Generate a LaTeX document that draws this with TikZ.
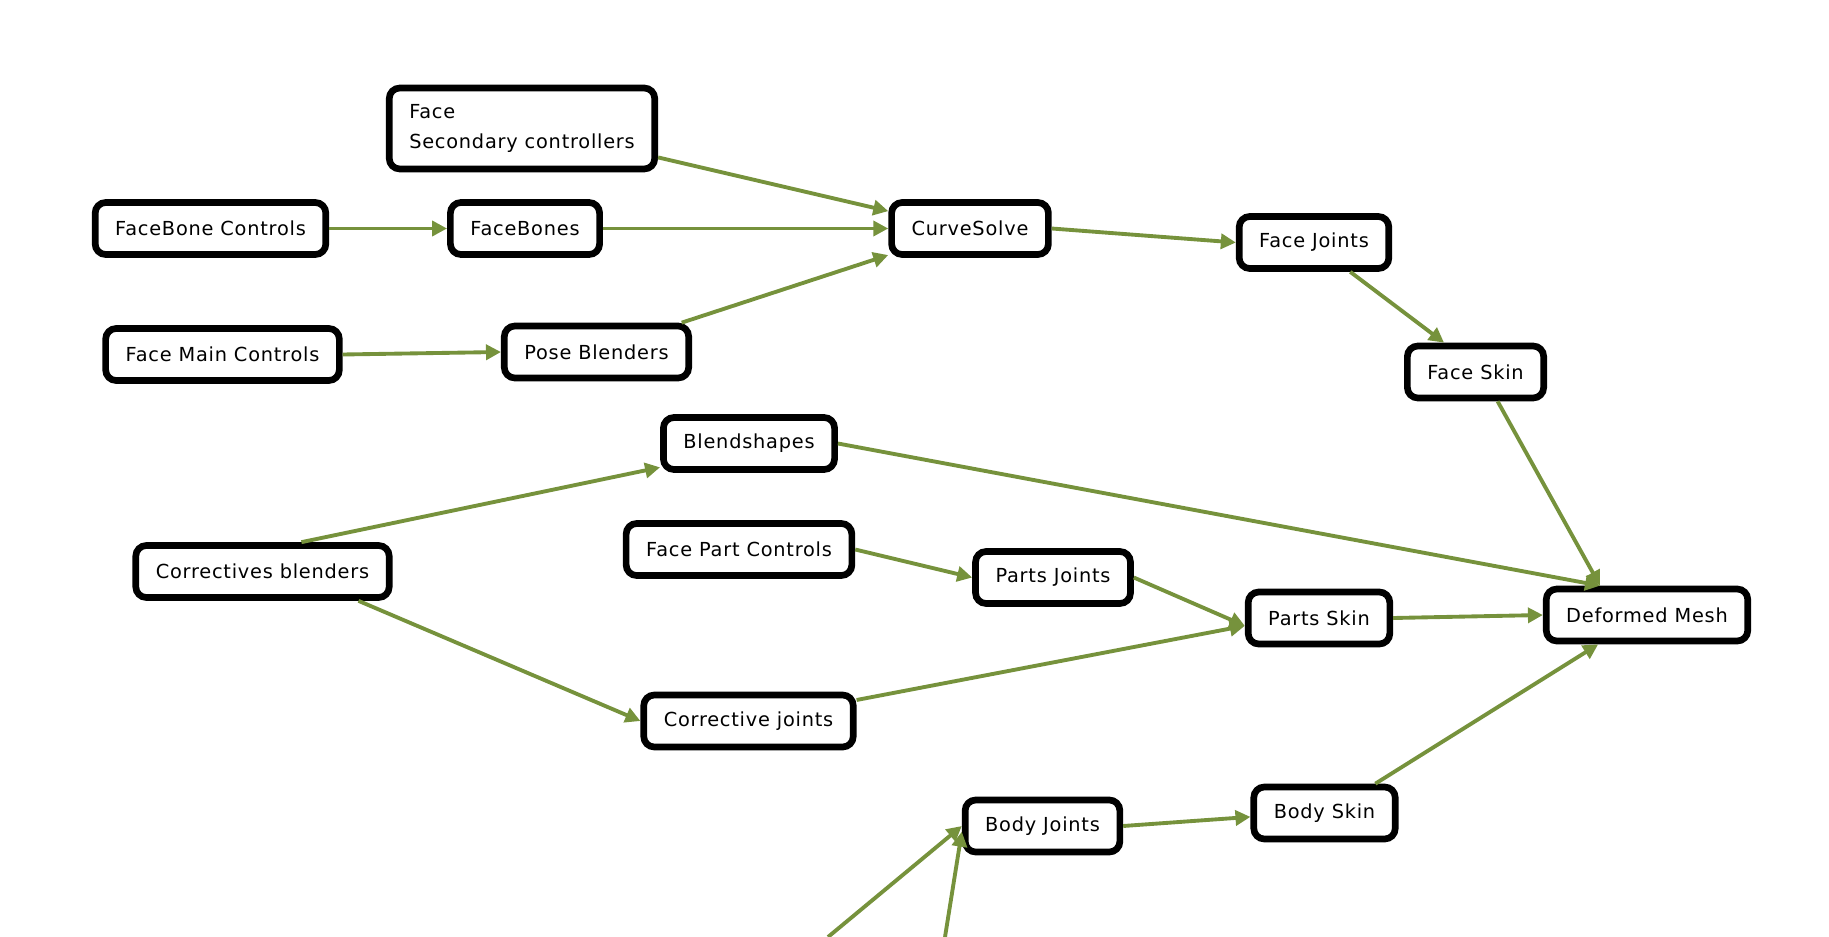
\documentclass[tikz,border=0pt]{standalone}
\usepackage{fontspec}
\setmainfont[LetterSpace=4]{DejaVu Sans}
\usetikzlibrary{arrows.meta}
\definecolor{olive}{HTML}{76923C}

\begin{document}
\begin{tikzpicture}[
  font=\fontsize{11}{16.6}\selectfont,
  box/.style={draw, line width=3.8pt, rounded corners=6pt, fill=white, inner xsep=0.4cm, minimum height=1.04cm, align=left},
  arrow/.style={-{Triangle[length=0.3cm, width=0.3cm]}, draw=olive, line width=2.2pt}
]
\useasboundingbox (0,0) rectangle (36.58,-18.74);

\node[box, minimum height=1.62cm] (facesec) at (10.44,-2.57) {Face\\Secondary controllers};
\node[box] (fbctrl) at (4.21,-4.57) {FaceBone Controls};
\node[box] (facebones) at (10.50,-4.57) {FaceBones};
\node[box] (curvesolve) at (19.40,-4.57) {CurveSolve};
\node[box] (fmctrl) at (4.45,-7.09) {Face Main Controls};
\node[box] (poseblend) at (11.93,-7.04) {Pose Blenders};
\node[box] (facejoints) at (26.28,-4.85) {Face Joints};
\node[box] (faceskin) at (29.51,-7.44) {Face Skin};

\node[box] (blendshapes) at (14.98,-8.87) {Blendshapes};
\node[box] (corrblend) at (5.25,-11.43) {Correctives blenders};
\node[box] (fpctrl) at (14.78,-10.99) {Face Part Controls};
\node[box] (partsjoints) at (21.06,-11.55) {Parts Joints};
\node[box] (partsskin) at (26.38,-12.36) {Parts Skin};
\node[box] (defmesh) at (32.94,-12.30) {Deformed Mesh};
\node[box] (corrjoints) at (14.97,-14.42) {Corrective joints};

\node[box] (bodyjoints) at (20.85,-16.52) {Body Joints};
\node[box] (bodyskin) at (26.49,-16.26) {Body Skin};

% inputs coming from below the page
\coordinate (bodyinA) at (16.56,-18.74);
\coordinate (bodyinB) at (18.90,-18.74);

\draw[arrow] (facesec.-12) -- (curvesolve.168);
\draw[arrow] (fbctrl.east) -- (facebones.west);
\draw[arrow] (facebones.east) -- (curvesolve.west);
\draw[arrow] (poseblend.19) -- (curvesolve.198);
\draw[arrow] (fmctrl.east) -- (poseblend.west);
\draw[arrow] (curvesolve.east) -- (facejoints.west);
\draw[arrow] (facejoints.-39) -- (faceskin.137);
\draw[arrow] (faceskin.-53) -- (defmesh.148);

\draw[arrow] (blendshapes.east) -- (defmesh.148);
\draw[arrow] (corrblend.37) -- (blendshapes.195);
\draw[arrow] (corrblend.-17) -- (corrjoints.west);
\draw[arrow] (fpctrl.east) -- (partsjoints.west);
\draw[arrow] (partsjoints.east) -- (partsskin.186);
\draw[arrow] (corrjoints.11) -- (partsskin.186);
\draw[arrow] (partsskin.east) -- (defmesh.west);

\draw[arrow] (bodyskin.30) -- (defmesh.211);
\draw[arrow] (bodyjoints.east) -- (bodyskin.183);
\draw[arrow] (bodyinA) -- (bodyjoints.west);
\draw[arrow] (bodyinB) -- (bodyjoints.184);
\end{tikzpicture}
\end{document}
